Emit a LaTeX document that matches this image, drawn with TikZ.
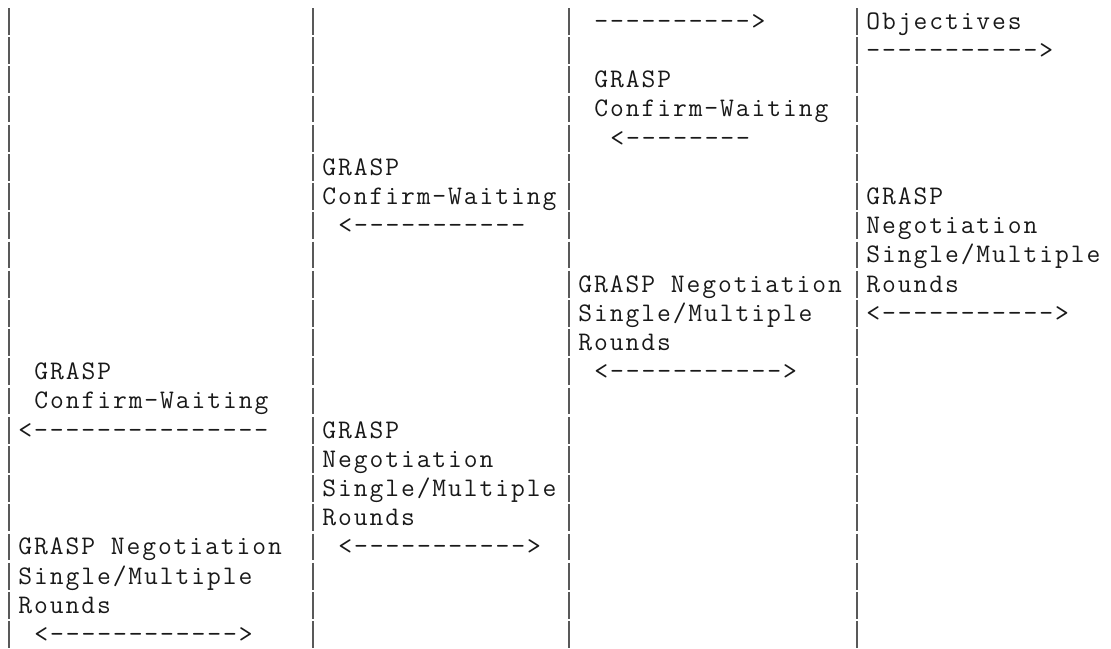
\documentclass[tikz,border=0pt]{standalone}
\usepackage{fontspec}
\setmonofont{Latin Modern Mono}[LetterSpace=7.2]
\begin{document}
\begin{tikzpicture}[x=8pt, y=-14.6pt,
    txt/.style={font=\ttfamily\fontsize{13.4pt}{14.6pt}\selectfont, text=black!90, inner sep=0pt, anchor=base west},
    lifeline/.style={black!65, line width=0.9pt, dash pattern=on 13.35pt off 1.25pt}]

  \useasboundingbox (0,0) rectangle (69.4375,22.1918);

  % 1. 四条竖线
  \begin{scope}[xshift=0.5pt]
    \coordinate (topA) at (0.5,0.274);  \coordinate (botA) at (0.5,22.1918);
    \coordinate (topB) at (19.5,0.274); \coordinate (botB) at (19.5,22.1918);
    \coordinate (topC) at (35.5,0.274); \coordinate (botC) at (35.5,22.1918);
    \coordinate (topD) at (53.5,0.274); \coordinate (botD) at (53.5,22.1918);
    \draw[lifeline] (topA) -- (botA);
    \draw[lifeline] (topB) -- (botB);
    \draw[lifeline] (topC) -- (botC);
    \draw[lifeline] (topD) -- (botD);
  \end{scope}

  \begin{scope}[xshift=0.98pt]
    % 2. Objectives
    \node[txt] (reqC) at (37,1) {---------->};
    \node[txt] (objD) at (54,1) {Objectives};
    \node[txt] (reqD) at (54,2) {----------->};

    % 3. Confirm-Waiting (C)
    \node[txt] (cwC1) at (37,3) {GRASP};
    \node[txt] (cwC2) at (37,4) {Confirm-Waiting};
    \node[txt] (cwC3) at (38,5) {<--------};

    % 4. Confirm-Waiting (B)
    \node[txt] (cwB1) at (20,6) {GRASP};
    \node[txt] (cwB2) at (20,7) {Confirm-Waiting};
    \node[txt] (cwB3) at (21,8) {<-----------};

    % 5. Negotiation (D)
    \node[txt] (negD1) at (54,7) {GRASP};
    \node[txt] (negD2) at (54,8) {Negotiation};
    \node[txt] (negD3) at (54,9) {Single/Multiple};
    \node[txt] (negD4) at (54,10) {Rounds};
    \node[txt] (negD5) at (54,11) {<----------->};

    % 6. Negotiation (C)
    \node[txt] (negC1) at (36,10) {GRASP Negotiation};
    \node[txt] (negC2) at (36,11) {Single/Multiple};
    \node[txt] (negC3) at (36,12) {Rounds};
    \node[txt] (negC4) at (37,13) {<----------->};

    % 7. Confirm-Waiting (A)
    \node[txt] (cwA1) at (2,13) {GRASP};
    \node[txt] (cwA2) at (2,14) {Confirm-Waiting};
    \node[txt] (cwA3) at (1,15) {<---------------};

    % 8. Negotiation (B)
    \node[txt] (negB1) at (20,15) {GRASP};
    \node[txt] (negB2) at (20,16) {Negotiation};
    \node[txt] (negB3) at (20,17) {Single/Multiple};
    \node[txt] (negB4) at (20,18) {Rounds};
    \node[txt] (negB5) at (21,19) {<----------->};

    % 9. Negotiation (A)
    \node[txt] (negA1) at (1,19) {GRASP Negotiation};
    \node[txt] (negA2) at (1,20) {Single/Multiple};
    \node[txt] (negA3) at (1,21) {Rounds};
    \node[txt] (negA4) at (2,22) {<------------>};
  \end{scope}

\end{tikzpicture}
\end{document}
